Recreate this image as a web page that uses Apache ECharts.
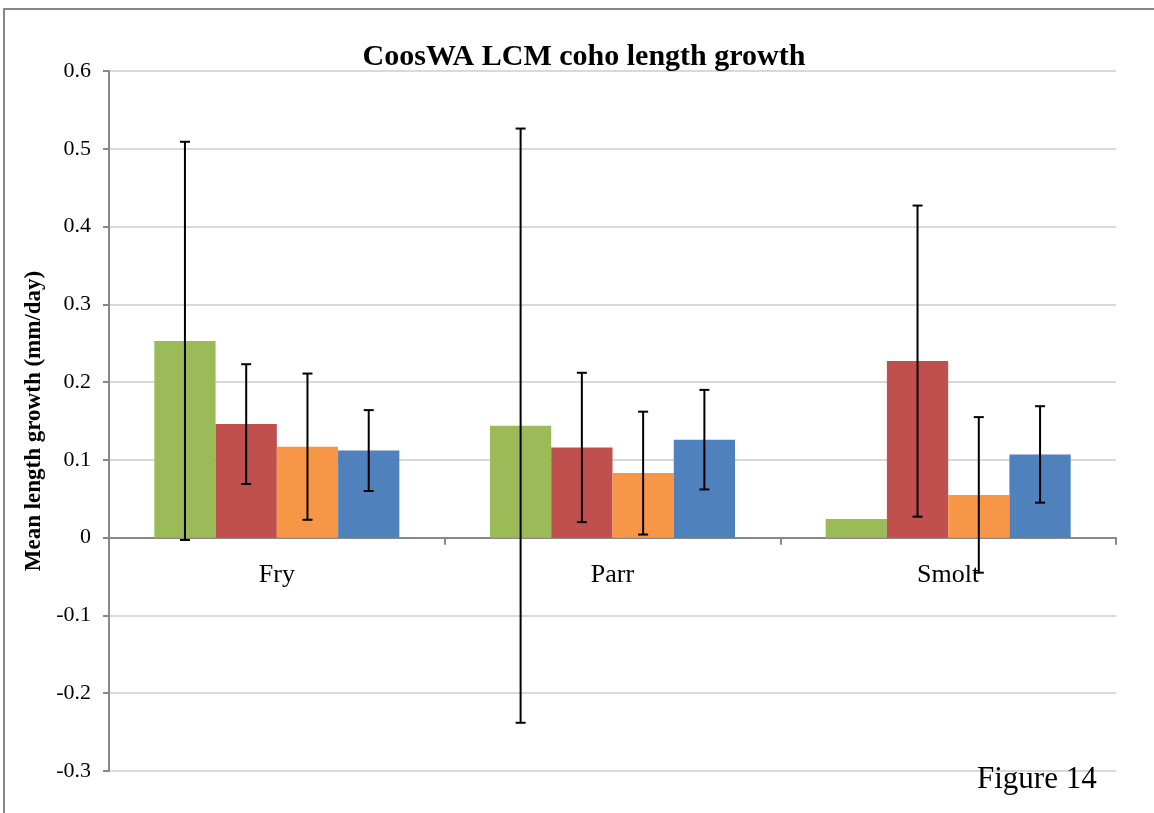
<!DOCTYPE html>
<html>
<head>
<meta charset="utf-8">
<script src="https://cdn.jsdelivr.net/npm/echarts@6/dist/echarts.min.js"></script>
<style>
  html, body { margin: 0; padding: 0; background: #fff; }
  #main { width: 1154px; height: 813px; }
</style>
</head>
<body>
<div id="main"></div>
<script>
// life stages on the x axis
var categories = ['Fry', 'Parr', 'Smolt'];
var seriesNames = ['Series 1', 'Series 2', 'Series 3', 'Series 4'];
var seriesColors = ['#9BBB59', '#C0504D', '#F79646', '#4F81BD'];

// mean length growth (mm/day)
var greenVals = [0.253, 0.144, 0.024];
var redVals = [0.146, 0.116, 0.227];
var orangeVals = [0.117, 0.083, 0.055];
var blueVals = [0.112, 0.126, 0.107];

// error bar half-widths (null = no bar)
var greenErr = [0.256, 0.382, null];
var redErr = [0.077, 0.096, 0.200];
var orangeErr = [0.094, 0.079, 0.100];
var blueErr = [0.052, 0.064, 0.062];

var yTicks = [-0.3, -0.2, -0.1, 0, 0.1, 0.2, 0.3, 0.4, 0.5, 0.6];

var allVals = [greenVals, redVals, orangeVals, blueVals];
var allErr = [greenErr, redErr, orangeErr, blueErr];
var GAP = 0.27;
var font = '"Liberation Serif", "DejaVu Serif", serif';

function errRenderer(idx) {
    return function (params, api) {
        var err = api.value(2);
        if (err == null || isNaN(err)) return;
        var ci = api.value(0), mean = api.value(1);
        var band = api.size([1, 0])[0];
        var bw = band * (1 - GAP) / 4;
        var x = api.coord([ci, mean])[0] + (idx - 1.5) * bw;
        var top = api.coord([ci, mean + err])[1];
        var bot = api.coord([ci, mean - err])[1];
        var st = { stroke: '#000', lineWidth: 2 };
        var cap = 5;
        return {
            type: 'group',
            children: [
                { type: 'line', shape: { x1: x, y1: top, x2: x, y2: bot }, style: st },
                { type: 'line', shape: { x1: x - cap, y1: top, x2: x + cap, y2: top }, style: st },
                { type: 'line', shape: { x1: x - cap, y1: bot, x2: x + cap, y2: bot }, style: st }
            ]
        };
    };
}

var series = [];
seriesNames.forEach(function (n, i) {
    series.push({
        name: n,
        type: 'bar',
        data: allVals[i],
        barGap: '0%',
        barCategoryGap: (GAP * 100) + '%',
        itemStyle: { color: seriesColors[i] },
        z: 2
    });
});
seriesNames.forEach(function (n, i) {
    series.push({
        name: n + ' err',
        type: 'custom',
        renderItem: errRenderer(i),
        data: categories.map(function (c, k) { return [k, allVals[i][k], allErr[i][k]]; }),
        z: 5,
        silent: true
    });
});

var option = {
    backgroundColor: '#fff',
    animation: false,
    title: {
        text: 'CoosWA LCM coho length growth',
        left: 579, top: 37, textAlign: 'center',
        textStyle: { fontFamily: font, fontWeight: 'bold', fontSize: 30, color: '#000' }
    },
    grid: [
        { left: 109, right: 38, top: 71, bottom: 42, containLabel: false },
        // second grid ending at the zero line, only used to place the category labels
        { left: 109, right: 38, top: 71, bottom: 276, containLabel: false }
    ],
    xAxis: [
        {
            type: 'category',
            data: categories,
            axisLine: { onZero: true, lineStyle: { color: '#888', width: 2 } },
            axisTick: { show: true, length: 7, lineStyle: { color: '#888', width: 2 } },
            axisLabel: { show: false },
            splitLine: { show: false }
        },
        {
            type: 'category',
            gridIndex: 1,
            data: categories,
            axisLine: { show: false },
            axisTick: { show: false },
            axisLabel: { fontFamily: font, fontSize: 26, color: '#000', margin: 25 },
            splitLine: { show: false }
        }
    ],
    yAxis: [
        {
            type: 'value',
            min: -0.3, max: 0.6, interval: 0.1,
            name: 'Mean length growth (mm/day)',
            nameLocation: 'middle',
            nameGap: 61,
            nameTextStyle: { fontFamily: font, fontWeight: 'bold', fontSize: 23, color: '#000' },
            axisLine: { show: true, lineStyle: { color: '#888', width: 2 } },
            axisTick: { show: true, length: 6, lineStyle: { color: '#888', width: 2 } },
            axisLabel: {
                fontFamily: font, fontSize: 22, color: '#000', margin: 18,
                formatter: function (v) {
                    var t = yTicks.filter(function (k) { return Math.abs(k - v) < 1e-9; })[0];
                    return t === undefined ? '' : String(t);
                }
            },
            splitLine: { lineStyle: { color: '#d9d9d9', width: 2 } }
        },
        {
            type: 'value',
            gridIndex: 1,
            min: 0, max: 0.6,
            show: false
        }
    ],
    graphic: [
        {
            type: 'rect', silent: true, z: 100,
            shape: { x: 4, y: 9, width: 1170, height: 830 },
            style: { fill: 'none', stroke: '#888', lineWidth: 2 }
        },
        {
            type: 'text', left: 977, top: 764, z: 100,
            style: { text: 'Figure 14', fontFamily: font, fontSize: 31, fill: '#000' }
        }
    ],
    series: series
};

var myChart = echarts.init(document.getElementById('main'));
myChart.setOption(option);
</script>
</body>
</html>
